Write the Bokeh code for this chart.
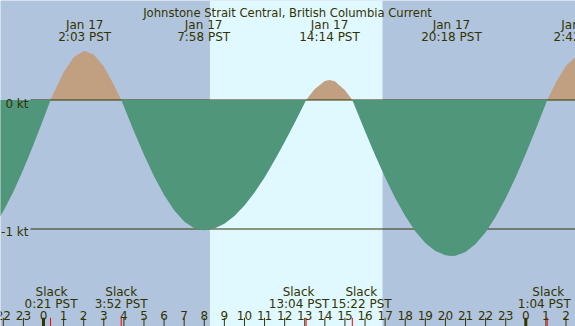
from bokeh.plotting import figure
from bokeh.models import Range1d
from bokeh.core.properties import value
from bokeh.embed import file_html
from bokeh.resources import INLINE

# ---- data (hours from Jan 17 00:00 PST, knots) ----
hours_t = [-2.5, -2.0, -1.5, -1.0, -0.5, 0.0, 0.35, 0.5, 1.0, 1.5, 2.0, 2.05, 2.5, 3.0, 3.5,
           3.867, 4.0, 4.5, 5.0, 5.5, 6.0, 6.5, 7.0, 7.5, 7.967, 8.0, 8.5, 9.0, 9.5, 10.0,
           10.5, 11.0, 11.5, 12.0, 12.5, 13.0, 13.067, 13.5, 14.0, 14.233, 14.5, 15.0, 15.367,
           15.5, 16.0, 16.5, 17.0, 17.5, 18.0, 18.5, 19.0, 19.5, 20.0, 20.3, 20.5, 21.0, 21.5,
           22.0, 22.5, 23.0, 23.5, 24.0, 24.5, 25.0, 25.067, 25.5, 26.0, 26.5]
current_kt = [-0.987, -0.863, -0.712, -0.537, -0.347, -0.145, 0.0, 0.053, 0.215, 0.332, 0.380,
              0.380, 0.352, 0.259, 0.118, 0.0, -0.051, -0.243, -0.425, -0.592, -0.737, -0.855,
              -0.942, -0.994, -1.010, -1.010, -0.996, -0.959, -0.900, -0.818, -0.718, -0.600,
              -0.468, -0.326, -0.176, -0.021, 0.0, 0.085, 0.147, 0.155, 0.145, 0.076, 0.0,
              -0.051, -0.242, -0.427, -0.601, -0.760, -0.900, -1.017, -1.108, -1.171, -1.204,
              -1.210, -1.207, -1.178, -1.117, -1.025, -0.906, -0.762, -0.597, -0.417, -0.225,
              -0.027, 0.0, 0.138, 0.266, 0.334]

peak_times = [2.05, 7.967, 14.233, 20.3, 26.7]
peak_dates = ["Jan 17", "Jan 17", "Jan 17", "Jan 17", "Jan 18"]
peak_labels = ["2:03 PST", "7:58 PST", "14:14 PST", "20:18 PST", "2:42 PST"]

slack_times = [0.35, 3.867, 13.067, 15.367, 25.067]
slack_labels = ["0:21 PST", "3:52 PST", "13:04 PST", "15:22 PST", "1:04 PST"]

daylight = [8.28, 16.87]  # sunrise, sunset
hour_ticks = list(range(-2, 27))
hour_labels = [str(h % 24) for h in hour_ticks]
level_values = [0, -1]
level_labels = ["0 kt", "-1 kt"]

title = "Johnstone Strait Central, British Columbia Current"

# ---- layout (reference pixel geometry -> data space) ----
PX_PER_H = 20.096
X0 = 43.0
PX_PER_KT = 129.0
Y0 = 99.5
W, H = 575, 326
def tx(px):
    return (px - X0) / PX_PER_H
def ky(py):
    return (Y0 - py) / PX_PER_KT

# label de-collision shifts (screen px), as in the reference
slack_word_shift = [1, 0, -7.5, 9, 1]
slack_time_shift = [0.5, 0, -7, 9, -3]
level_label_py = [103.5, 231.0]

NIGHT = "#b0c4de"
DAY = "#e0f8ff"
FLOOD = "#c0a080"
EBB = "#4f967a"
INK = "#333300"
FONT = value("DejaVu Sans")

p = figure(width=W, height=H, x_range=Range1d(tx(0), tx(W)),
           y_range=Range1d(ky(H), ky(0)), output_backend="svg",
           toolbar_location=None, x_axis_type=None, y_axis_type=None,
           min_border=0)
p.grid.visible = False
p.outline_line_color = None
p.background_fill_color = NIGHT
p.border_fill_color = "white"

# daylight band
p.quad(left=[daylight[0]], right=[daylight[1]], bottom=[ky(400)], top=[ky(-50)],
       fill_color=DAY, line_color=None)

flood = [max(v, 0.0) for v in current_kt]
ebb = [min(v, 0.0) for v in current_kt]
p.varea(x=hours_t, y1=[0.0] * len(hours_t), y2=flood, fill_color=FLOOD)

# level lines
p.segment(x0=[tx(30)] * len(level_values), x1=[tx(600)] * len(level_values),
          y0=level_values, y1=level_values, line_color=INK, line_width=1)

p.varea(x=hours_t, y1=[0.0] * len(hours_t), y2=ebb, fill_color=EBB)

p.text(x=[tx(28)] * len(level_values), y=[ky(py) for py in level_label_py],
       text=level_labels, text_align="right", text_baseline="alphabetic",
       text_font=FONT, text_font_size="12px", text_color=INK)

# title and peak labels
p.text(x=[tx(287)], y=[ky(12)], text=[title], text_align="center",
       text_baseline="alphabetic", text_font=FONT, text_font_size="11.6px", text_color=INK)
p.text(x=peak_times, y=[ky(24.3)] * len(peak_times), text=peak_dates, text_align="center",
       text_baseline="alphabetic", text_font=FONT, text_font_size="12px", text_color=INK)
p.text(x=peak_times, y=[ky(36)] * len(peak_times), text=peak_labels, text_align="center",
       text_baseline="alphabetic", text_font=FONT, text_font_size="12px", text_color=INK)

# slack labels
p.text(x=slack_times, y=[ky(291.7)] * len(slack_times), text=["Slack"] * len(slack_times),
       x_offset=slack_word_shift, text_align="center", text_baseline="alphabetic",
       text_font=FONT, text_font_size="12px", text_color=INK)
p.text(x=slack_times, y=[ky(303.7)] * len(slack_times), text=slack_labels,
       x_offset=slack_time_shift, text_align="center", text_baseline="alphabetic",
       text_font=FONT, text_font_size="12px", text_color=INK)

# hour labels and ticks
p.text(x=hour_ticks, y=[ky(315.3)] * len(hour_ticks), text=hour_labels,
       text_align="center", text_baseline="alphabetic", text_font=FONT,
       text_font_size="12px", text_color=INK)
p.segment(x0=hour_ticks, x1=hour_ticks, y0=[ky(317.3)] * len(hour_ticks),
          y1=[ky(330)] * len(hour_ticks), line_color=INK,
          line_width=[3 if h % 24 == 0 else 1 for h in hour_ticks])
p.segment(x0=slack_times, x1=slack_times, y0=[ky(317.3)] * len(slack_times),
          y1=[ky(330)] * len(slack_times), line_color="red", line_width=1)

open("out.html", "w").write(file_html(p, INLINE))
